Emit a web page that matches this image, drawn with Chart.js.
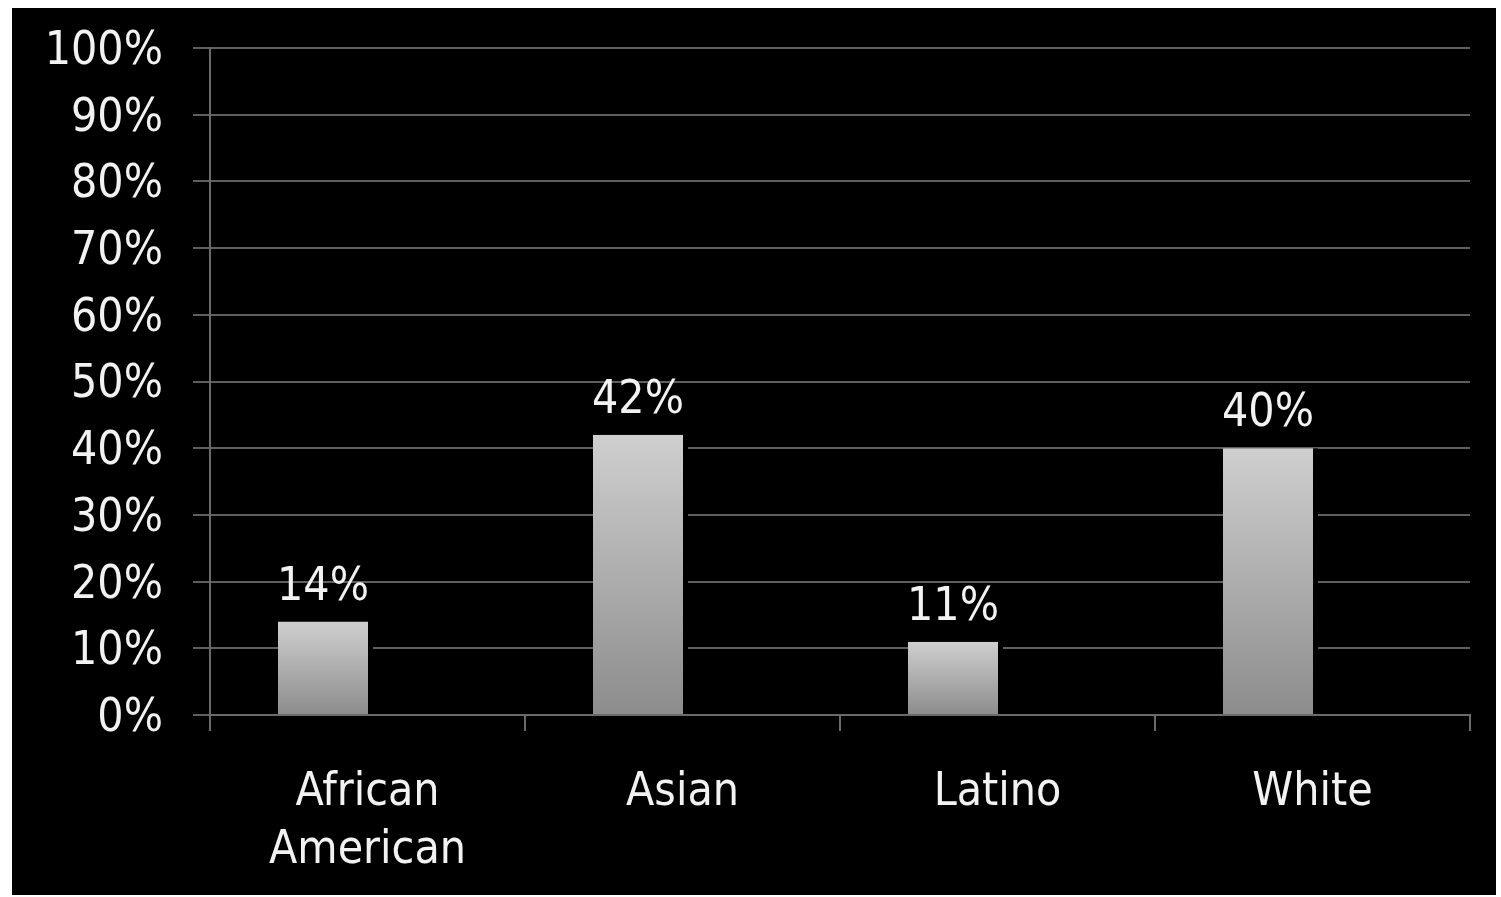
<!DOCTYPE html>
<html>
<head>
<meta charset="utf-8">
<script src="https://cdn.jsdelivr.net/npm/chart.js@4"></script>
<style>
  html, body {
    margin: 0;
    padding: 0;
    background: #ffffff;
  }
  .panel {
    position: absolute;
    left: 12px;
    top: 8px;
    width: 1484px;
    height: 887px;
    background: #000000;
  }
</style>
</head>
<body>
<div class="panel">
  <canvas id="myChart" width="1484" height="887"></canvas>
</div>
<script>
const categories = [["African", "American"], "Asian", "Latino", "White"];
const acceptance = [14, 42, 11, 40];
// the source chart had an empty second series, which is why bars sit left of centre
const emptySeries = [null, null, null, null];
const yTicks = [0, 10, 20, 30, 40, 50, 60, 70, 80, 90, 100];

const fontFamily = "'DejaVu Sans Condensed', 'DejaVu Sans', Verdana, sans-serif";
const textColor = "#f2f2f2";
const gridColor = "#5e5e5e";

const barGradient = (context) => {
  const chart = context.chart;
  if (!chart.chartArea || context.raw == null) return "#aaaaaa";
  const yScale = chart.scales.y;
  const top = yScale.getPixelForValue(context.raw);
  const bottom = yScale.getPixelForValue(0);
  const gradient = chart.ctx.createLinearGradient(0, top, 0, bottom);
  gradient.addColorStop(0, "#cfcfcf");
  gradient.addColorStop(1, "#8c8c8c");
  return gradient;
};

// write the percentage above each bar
const valueLabels = {
  id: "valueLabels",
  afterDatasetsDraw: (chart) => {
    const ctx = chart.ctx;
    const meta = chart.getDatasetMeta(0);
    ctx.save();
    ctx.font = "46px " + fontFamily;
    ctx.fillStyle = textColor;
    ctx.textAlign = "center";
    ctx.textBaseline = "alphabetic";
    meta.data.forEach((bar, i) => {
      const center = bar.x - 2.5;
      ctx.fillText(acceptance[i] + "%", center, bar.y - 22);
    });
    ctx.restore();
  },
};

new Chart(document.getElementById("myChart"), {
  type: "bar",
  data: {
    labels: categories,
    datasets: [
      {
        label: "Acceptance",
        data: acceptance,
        backgroundColor: barGradient,
        borderColor: "#000000",
        borderWidth: { top: 0, left: 0, bottom: 0, right: 5 },
        borderSkipped: false,
        categoryPercentage: 0.5333,
        barPercentage: 1.131,
      },
      {
        label: "",
        data: emptySeries,
        backgroundColor: "#aaaaaa",
        categoryPercentage: 0.5333,
        barPercentage: 1.131,
      },
    ],
  },
  options: {
    responsive: false,
    animation: false,
    layout: {
      padding: { top: 40, right: 26, bottom: 0, left: 0 },
    },
    plugins: {
      legend: { display: false },
      tooltip: { enabled: false },
    },
    scales: {
      y: {
        min: 0,
        max: 100,
        afterBuildTicks: (axis) => {
          axis.ticks = yTicks.map((v) => ({ value: v }));
        },
        afterFit: (axis) => {
          axis.width = 198;
          axis.paddingTop = 0;
          axis.paddingBottom = 0;
        },
        ticks: {
          color: textColor,
          padding: 30,
          labelOffset: 4,
          font: { family: fontFamily, size: 46 },
          callback: (value) => value + "%",
        },
        grid: {
          color: gridColor,
          lineWidth: 2,
          tickLength: 17,
        },
        border: { color: "#6a6a6a", width: 2 },
      },
      x: {
        afterFit: (axis) => {
          axis.height = 180;
        },
        ticks: {
          color: textColor,
          padding: 33,
          maxRotation: 0,
          font: { family: fontFamily, size: 46, lineHeight: 1.26 },
        },
        grid: {
          offset: true,
          drawOnChartArea: false,
          color: "#6a6a6a",
          lineWidth: 2,
          tickLength: 16,
        },
        border: { color: "#6a6a6a", width: 2 },
      },
    },
  },
  plugins: [valueLabels],
});
</script>
</body>
</html>
